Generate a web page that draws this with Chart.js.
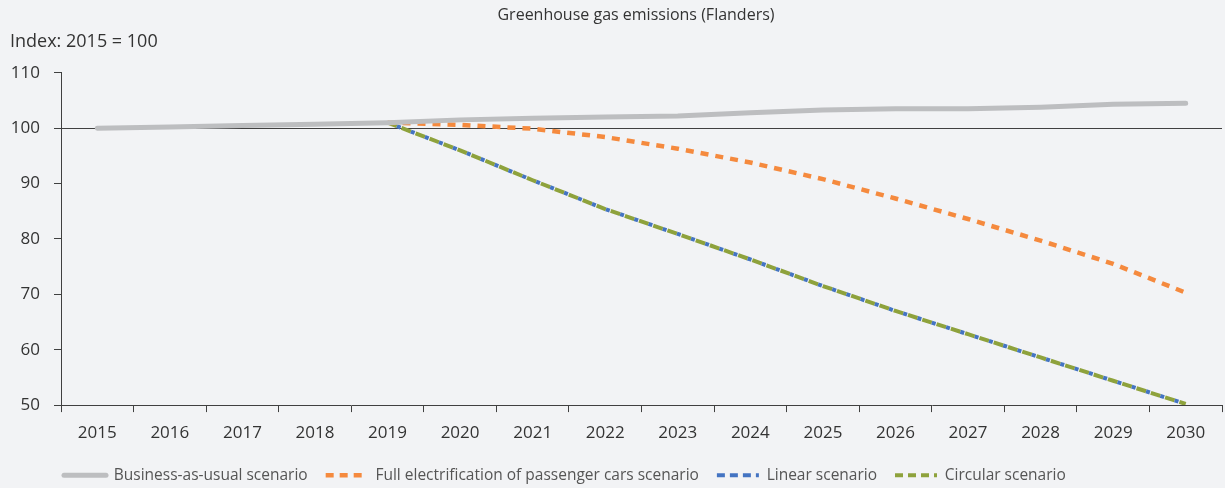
<!DOCTYPE html>
<html>
<head>
	<meta charset="utf-8">
	<title>Greenhouse gas emissions (Flanders)</title>
	<script src="https://cdn.jsdelivr.net/npm/chart.js@4.4.1/dist/chart.umd.min.js"></script>
	<style>
		html, body { margin: 0; padding: 0; background: #f2f3f5; }
		#wrap { width: 1225px; height: 488px; }
	</style>
</head>
<body>
<div id="wrap"><canvas id="graph"></canvas></div>
<script>
	const years = ['2015', '2016', '2017', '2018', '2019', '2020', '2021', '2022',
		'2023', '2024', '2025', '2026', '2027', '2028', '2029', '2030'];

	const businessAsUsual = [100, 100.2, 100.5, 100.7, 101, 101.5, 101.8, 102,
		102.2, 102.8, 103.3, 103.5, 103.5, 103.8, 104.3, 104.5];
	const fullElectrification = [null, null, null, null, 101, 100.6, 99.9, 98.4,
		96.3, 93.8, 90.8, 87.3, 83.6, 79.7, 75.5, 70.3];
	const linearScenario = [null, null, null, null, 101, 96, 90.6, 85.4,
		80.9, 76.3, 71.5, 67, 62.8, 58.6, 54.4, 50.2];
	const circularScenario = [null, null, null, null, 101, 96, 90.6, 85.4,
		80.9, 76.3, 71.5, 67, 62.8, 58.6, 54.4, 50.2];

	const yTicks = [50, 60, 70, 80, 90, 100, 110];

	const axisColor = '#404040';
	const textColor = '#333333';
	const font = 'Open Sans';

	// legend dashes (the line pattern of the series themselves differ a bit)
	const legendDash = [null, [8, 6], [8, 5], [8, 5]];

	// nudge title and legend to sit where the original has them
	const nudge = {
		id: 'nudge',
		afterLayout(chart) {
			chart.legend.left += 36;
			chart.legend.right += 36;
			chart.legend.top += 5;
			chart.legend.bottom += 5;
			chart.titleBlock.left += 20;
			chart.titleBlock.right += 20;
		}
	};

	new Chart(document.getElementById('graph'), {
		type: 'line',
		data: {
			labels: years,
			datasets: [{
				label: 'Business-as-usual scenario',
				data: businessAsUsual,
				borderColor: '#bdbec0',
				borderWidth: 5,
				borderCapStyle: 'round',
				pointRadius: 0
			}, {
				label: 'Full electrification of passenger cars scenario',
				data: fullElectrification,
				borderColor: '#f58a3e',
				borderWidth: 4.5,
				borderDash: [8, 7],
				pointRadius: 0
			}, {
				label: 'Linear scenario',
				data: linearScenario,
				borderColor: '#4474c2',
				borderWidth: 4,
				borderDash: [4, 11],
				borderDashOffset: 5,
				pointRadius: 0
			}, {
				label: 'Circular scenario',
				data: circularScenario,
				borderColor: '#8ea23c',
				borderWidth: 4,
				borderDash: [10, 5],
				pointRadius: 0
			}]
		},
		options: {
			responsive: true,
			maintainAspectRatio: false,
			animation: false,
			layout: { padding: { left: 10, right: 3, top: 4, bottom: 0 } },
			scales: {
				x: {
					offset: true,
					afterFit(axis) {
						axis.height -= 10;
					},
					grid: {
						offset: true,
						drawOnChartArea: false,
						color: axisColor,
						tickLength: 7
					},
					border: { color: axisColor },
					ticks: {
						color: textColor,
						font: { family: font, size: 17 },
						padding: 11,
						maxRotation: 0
					}
				},
				y: {
					min: 50,
					max: 110,
					afterBuildTicks(axis) {
						axis.ticks = yTicks.map(v => ({ value: v }));
					},
					afterFit(axis) {
						axis.width = 51;
					},
					grid: {
						color: ctx => (ctx.tick && ctx.tick.value === 100) ? axisColor : 'transparent',
						tickColor: axisColor,
						tickLength: 7
					},
					border: { color: axisColor },
					ticks: {
						color: textColor,
						font: { family: font, size: 17 },
						padding: 14
					}
				}
			},
			plugins: {
				title: {
					display: true,
					text: 'Greenhouse gas emissions (Flanders)',
					color: textColor,
					font: { family: font, size: 16, weight: 'normal' },
					padding: { top: 2, bottom: 6 }
				},
				subtitle: {
					display: true,
					text: 'Index: 2015 = 100',
					align: 'start',
					color: textColor,
					font: { family: font, size: 18 },
					padding: { top: 0, bottom: 20 }
				},
				legend: {
					position: 'bottom',
					align: 'start',
					labels: {
						color: '#555555',
						font: { family: font, size: 15.5 },
						usePointStyle: true,
						pointStyle: 'line',
						pointStyleWidth: 42,
						padding: 18,
						generateLabels(chart) {
							return chart.data.datasets.map((ds, i) => ({
								text: ds.label,
								datasetIndex: i,
								pointStyle: 'line',
								strokeStyle: ds.borderColor,
								fillStyle: ds.borderColor,
								lineWidth: ds.borderWidth,
								lineDash: legendDash[i] || [],
								lineCap: i === 0 ? 'round' : 'butt',
								fontColor: '#555555',
								hidden: false
							}));
						}
					}
				},
				tooltip: { enabled: false }
			}
		},
		plugins: [nudge]
	});
</script>
</body>
</html>
